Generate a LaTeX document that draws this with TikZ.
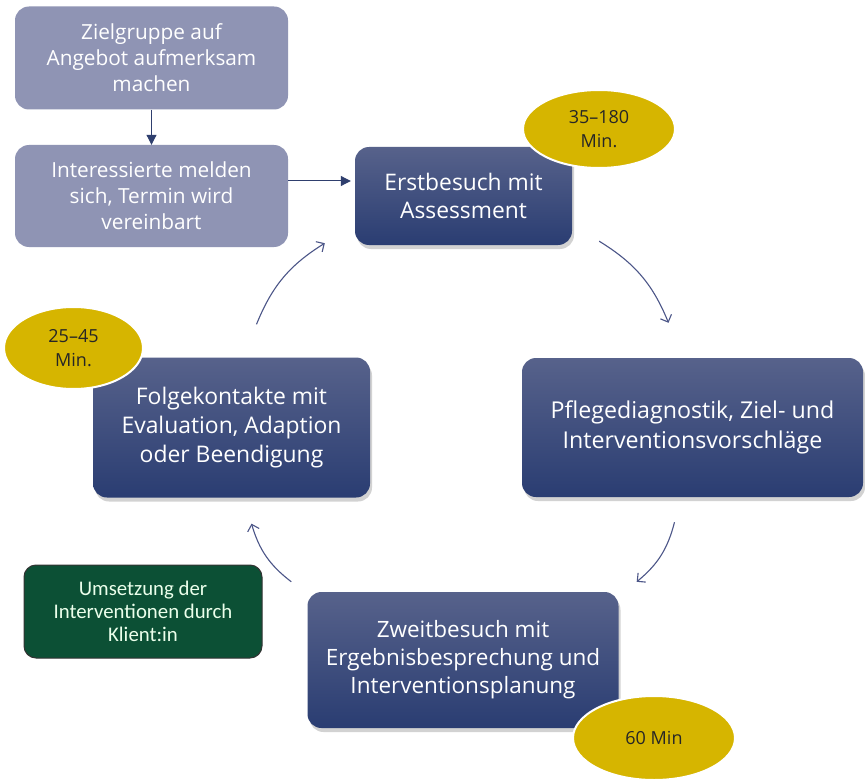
\documentclass[tikz,border=0pt]{standalone}
\usepackage{fontspec}
\setmainfont{Open Sans}
\newfontfamily\calfont{Carlito}
\usetikzlibrary{shapes.geometric,shadows,arrows.meta,calc}
\definecolor{greybox}{HTML}{8F94B4}
\definecolor{navytop}{HTML}{57628B}
\definecolor{navybot}{HTML}{2A3D72}
\definecolor{mustard}{HTML}{D6B500}
\definecolor{darkgreen}{HTML}{0C5035}
\definecolor{arrowblue}{HTML}{4C5688}
\definecolor{flowblue}{HTML}{2F3F6E}
\tikzset{
  greystep/.style={rectangle,rounded corners=14pt,fill=greybox,text=white,align=center,
    minimum width=273pt,minimum height=103pt,font=\fontsize{20.8}{26}\selectfont},
  navystep/.style={rectangle,rounded corners=14pt,top color=navytop,bottom color=navybot,
    text=white,align=center,
    drop shadow={shadow xshift=2pt,shadow yshift=-4pt,opacity=0.35}},
  minutes/.style={ellipse,fill=mustard,draw=white,line width=2pt,align=center,
    text=black!85,inner sep=0pt,font=\fontsize{18}{24}\selectfont},
  flowarrow/.style={draw=flowblue,line width=1pt,-{Triangle[length=10pt,width=10pt]}},
  cycarrow/.style={draw=arrowblue,line width=1.1pt,-{Straight Barb[length=6pt,width=12pt]},bend left=18}
}
\begin{document}
\begin{tikzpicture}[x=1pt,y=-1pt]
\useasboundingbox[fill=white](0,0)rectangle(865,781);
%steps before the first visit
\node[greystep](zg)at(151.5,58){Zielgruppe auf\\Angebot aufmerksam\\machen};
\node[greystep,minimum height=102pt](ia)at(151.5,196){Interessierte melden\\sich, Termin wird\\vereinbart};
%cycle
\node[navystep,minimum width=217pt,minimum height=98pt,font=\fontsize{22.8}{28}\selectfont](erst)at(463.5,196){Erstbesuch mit\\Assessment};
\node[navystep,minimum width=341pt,minimum height=139pt,font=\fontsize{23.2}{30}\selectfont](pflege)at(692.5,427.5){Pflegediagnostik, Ziel- und\\Interventionsvorschläge};
\node[navystep,minimum width=311pt,minimum height=136pt,font=\fontsize{22.5}{28}\selectfont](zweit)at(463,660){Zweitbesuch mit\\Ergebnisbesprechung und\\Interventionsplanung};
\node[navystep,minimum width=277pt,minimum height=140pt,font=\fontsize{22.9}{29}\selectfont](folge)at(231.5,427.5){Folgekontakte mit\\Evaluation, Adaption\\oder Beendigung};
\node[rectangle,rounded corners=12pt,fill=darkgreen,draw=black!80,line width=1pt,text=green!8,align=center,
  minimum width=238pt,minimum height=93pt,font=\calfont\fontsize{20.8}{23}\selectfont](umsetz)at(143,611.5){Umsetzung der\\Interventionen durch\\Klient:in};
%durations
\node[minutes,minimum width=152pt,minimum height=78pt](d1)at(599,129){35–180\\Min.};
\node[minutes,minimum width=162pt,minimum height=84pt](d2)at(654,738){60 Min};
\node[minutes,minimum width=139pt,minimum height=82pt](d3)at(73.5,348){25–45\\Min.};
%arrows
\draw[flowarrow](zg)--(ia);
\draw[flowarrow,shorten >=4pt]([yshift=15pt]ia.east)--([yshift=15pt]erst.west);
\draw[cycarrow]($(erst.south east)+(27,-4)$)to($(pflege.north)+(-24,-35)$);
\draw[cycarrow]($(pflege.south)+(-18,25)$)to($(zweit.north east)+(18,-10)$);
\draw[cycarrow]($(zweit.north west)+(-16,-10)$)to($(folge.south)+(20,26)$);
\draw[cycarrow]($(folge.north)+(25,-33)$)to($(erst.south west)+(-30,-2)$);
\end{tikzpicture}
\end{document}
